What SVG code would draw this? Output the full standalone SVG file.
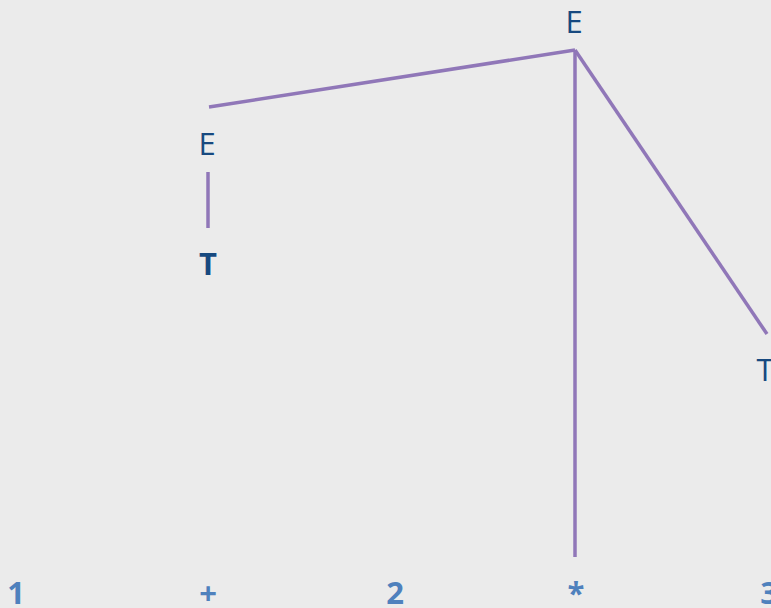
<svg xmlns="http://www.w3.org/2000/svg" width="771" height="608" viewBox="0 0 771 608">
<style>
.n{font-family:"Open Sans","Noto Sans",sans-serif;font-size:31px;fill:#17497F;text-anchor:middle}
.b{font-weight:bold}
.tok{font-family:"Open Sans","Noto Sans",sans-serif;font-size:31px;font-weight:bold;fill:#4F81BD;text-anchor:middle}
.e{stroke:#9077B8;stroke-width:3.5;fill:none}
</style>
<rect width="771" height="608" fill="#EBEBEB"/>
<g id="connectors">
<line class="e" x1="209" y1="107" x2="575" y2="50"/>
<line class="e" x1="575" y1="50" x2="575" y2="557"/>
<line class="e" x1="575" y1="50" x2="767" y2="334"/>
<line class="e" x1="208" y1="172" x2="208" y2="228"/>
</g>
<g id="nodeE1"><text class="n" x="574" y="33">E</text></g>
<g id="nodeE2"><text class="n" x="207" y="155">E</text></g>
<g id="nodeT1"><text class="n b" x="208" y="275">T</text></g>
<g id="nodeT2"><text class="n" x="765" y="381">T</text></g>
<g id="tok1"><text class="tok" x="16" y="604">1</text></g>
<g id="tok2"><text class="tok" x="208" y="604">+</text></g>
<g id="tok3"><text class="tok" x="395" y="604">2</text></g>
<g id="tok4"><text class="tok" x="576" y="604">*</text></g>
<g id="tok5"><text class="tok" x="769" y="604">3</text></g>
</svg>
